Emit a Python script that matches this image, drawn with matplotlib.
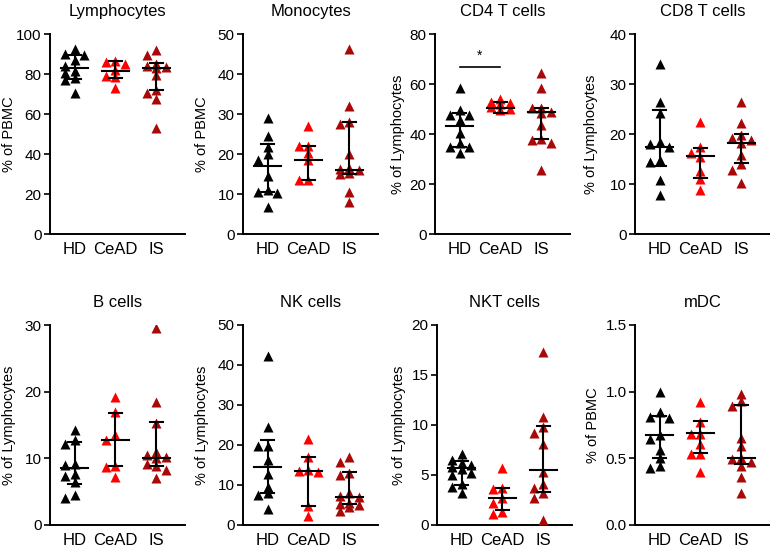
import numpy as np
import matplotlib
matplotlib.use('Agg')
from matplotlib import pyplot as plt

plt.rcParams['font.family'] = ['Liberation Sans', 'DejaVu Sans']

groups = ['HD', 'CeAD', 'IS']
colors = ['black', '#ff0000', '#a80808']

titles = ['Lymphocytes', 'Monocytes', 'CD4 T cells', 'CD8 T cells',
          'B cells', 'NK cells', 'NKT cells', 'mDC']
ylabels = ['% of PBMC', '% of PBMC', '% of Lymphocytes', '% of Lymphocytes',
           '% of Lymphocytes', '% of Lymphocytes', '% of Lymphocytes', '% of PBMC']
ymax = [100, 50, 80, 40, 30, 50, 20, 1.5]
ystep = [20, 10, 20, 10, 10, 10, 5, 0.5]

# values per group (HD, CeAD, IS)
lymph = [[92.5, 90, 89.5, 87, 84, 81.5, 80.5, 78, 77, 70.5],
         [86.5, 86, 85, 82, 79, 78.5, 73],
         [92, 89.5, 85, 84, 83.5, 83, 79.5, 72, 70.5, 67.5, 53]]
mono = [[29, 24.5, 21.8, 20, 18.5, 14.5, 11, 10.5, 10.2, 6.8],
        [26.9, 21.9, 21.9, 20.2, 18.4, 13.6, 13.6],
        [46.2, 31.9, 28, 27.5, 20, 16.5, 16.3, 16, 15.2, 15, 10.6, 7.9]]
cd4 = [[58.3, 49.7, 47.7, 47.5, 45.5, 40.6, 36.3, 35, 34.8, 32.4],
       [54, 53, 52.5, 52, 51, 50, 49.5],
       [64.3, 58.3, 50.3, 50.3, 49, 48.3, 43.7, 38, 37.7, 36.3, 25.7]]
cd8 = [[34.1, 26.5, 24.2, 18.5, 18, 17.5, 14.8, 14.5, 10.8, 7.9],
       [22.5, 17.5, 16.3, 15.4, 12.7, 11, 8.8],
       [26.5, 22.2, 19.8, 19.2, 18.8, 18.3, 15.8, 14, 12.8, 10.2]]
bcell = [[14.2, 12.7, 12.2, 9.2, 9.0, 7.6, 7.4, 6.4, 4.5, 4.1],
         [19.2, 17, 13.5, 12.7, 8.8, 8.7, 7.2],
         [29.5, 18.5, 15.3, 11, 10.5, 10.2, 10, 9.1, 8.8, 8.2, 7]]
nk = [[42.3, 24.6, 19.8, 19.8, 16.2, 12.7, 9.6, 7.9, 7.5, 4],
      [21.5, 17, 13.8, 13.5, 13.2, 4.8, 2.3],
      [17, 15.8, 13, 12.5, 8, 7.2, 7, 5.5, 5.2, 5, 4.6, 3.5]]
nkt = [[7.1, 6.5, 6.2, 6.0, 5.8, 5.6, 5.2, 5.0, 4.1, 3.8, 3.2],
       [5.7, 3.7, 3.6, 2.7, 2.2, 1.3, 1.1],
       [17.3, 10.8, 9.8, 9.2, 8.1, 5.3, 4.1, 3.7, 3.2, 2.7, 0.5]]
mdc = [[1.0, 0.845, 0.81, 0.805, 0.675, 0.645, 0.56, 0.5, 0.44, 0.43],
       [0.925, 0.775, 0.68, 0.68, 0.61, 0.53, 0.53, 0.4],
       [0.98, 0.93, 0.89, 0.655, 0.59, 0.5, 0.495, 0.47, 0.445, 0.36, 0.24]]

# median, lower, upper
lymph_stats = [(83.2, 77.4, 89.5), (81.5, 78.2, 86.5), (83.2, 72, 85.3)]
mono_stats = [(16.9, 10.6, 22.5), (18.6, 13.6, 21.9), (15.9, 15.1, 27.9)]
cd4_stats = [(43.3, 35, 48.6), (50.6, 48.6, 52.7), (48.9, 37.9, 50.3)]
cd8_stats = [(17.5, 13.6, 24.8), (15.6, 11.3, 17.2), (18.3, 14.2, 20)]
bcell_stats = [(8.5, 6.1, 12.4), (12.75, 8.9, 16.75), (10.1, 8.9, 15.4)]
nk_stats = [(14.4, 7.9, 21.2), (13.5, 4.8, 17.1), (7.0, 5.2, 13.2)]
nkt_stats = [(5.7, 4.0, 6.4), (2.7, 1.5, 3.7), (5.5, 3.3, 9.9)]
mdc_stats = [(0.675, 0.5, 0.82), (0.69, 0.54, 0.78), (0.505, 0.46, 0.9)]

datasets = [lymph, mono, cd4, cd8, bcell, nk, nkt, mdc]
stats = [lymph_stats, mono_stats, cd4_stats, cd8_stats,
         bcell_stats, nk_stats, nkt_stats, mdc_stats]

W, H = 770, 549
fig = plt.figure(figsize=(W / 100, H / 100), dpi=100)

lefts = [[50, 243, 435, 635], [50, 243, 437, 635]]
tops = [34, 325]
aw, ah = 135, 200
# y label centre, in pixels from the left edge of the figure
label_x = [9, 202, 398, 591, 9, 202, 399, 593]


def swarm(ax, x0, vals, dpx=9.5, hpx=7.0):
    # greedy swarm, at most one step left or right of the centre
    to_px = ax.transData
    placed = []
    xs = []
    for v in vals:
        px, py = to_px.transform((x0, v))
        best, best_d = px, -1
        for k in [0, -1, 1]:
            cx = px + k * dpx
            near = [np.hypot((cx - qx) / dpx, (py - qy) / hpx) for qx, qy in placed]
            d = min(near) if near else 9
            if d >= 0.95:
                best = cx
                break
            if d > best_d:
                best, best_d = cx, d
        placed.append((best, py))
        xs.append(to_px.inverted().transform((best, py))[0])
    return xs


for i in range(8):
    r, c = divmod(i, 4)
    ax = fig.add_axes([lefts[r][c] / W, (H - tops[r] - ah) / H, aw / W, ah / H])
    ax.set_xlim(-0.6, 2.7)
    ax.set_ylim(0, ymax[i])
    ax.spines['top'].set_visible(False)
    ax.spines['right'].set_visible(False)
    ax.spines['left'].set_linewidth(1.4)
    ax.spines['bottom'].set_linewidth(1.4)
    ax.set_yticks(np.arange(0, ymax[i] + ystep[i] / 2, ystep[i]))
    if ystep[i] < 1:
        ax.set_yticklabels(['%.1f' % t for t in ax.get_yticks()])
    ax.set_xticks(range(3))
    ax.set_xticklabels(groups, fontsize=12)
    ax.tick_params(axis='x', length=0, pad=6)
    ax.tick_params(axis='y', length=4, width=1.2, labelsize=11, pad=2)
    ax.set_ylabel(ylabels[i], fontsize=10.5)
    ax.yaxis.label.set_va('center')
    ax.yaxis.set_label_coords((label_x[i] - lefts[r][c]) / aw, 0.5)
    ax.set_title(titles[i], fontsize=12, pad=13)

    for g in range(3):
        vals = sorted(datasets[i][g], reverse=True)
        xs = swarm(ax, g, vals)
        ax.scatter(xs, vals, marker='^', s=52, color=colors[g], linewidths=0, zorder=3)
        med, lo, hi = stats[i][g]
        ax.plot([g - 0.33, g + 0.33], [med, med], color='black', lw=1.5, zorder=4)
        ax.plot([g, g], [lo, hi], color='black', lw=1.5, zorder=4)
        ax.plot([g - 0.16, g + 0.16], [lo, lo], color='black', lw=1.5, zorder=4)
        ax.plot([g - 0.16, g + 0.16], [hi, hi], color='black', lw=1.5, zorder=4)

    if titles[i] == 'CD4 T cells':
        ax.plot([0, 1], [67, 67], color='black', lw=1.2)
        ax.text(0.5, 68.5, '*', ha='center', va='bottom', fontsize=10)

fig.savefig('out.png', dpi=100)
